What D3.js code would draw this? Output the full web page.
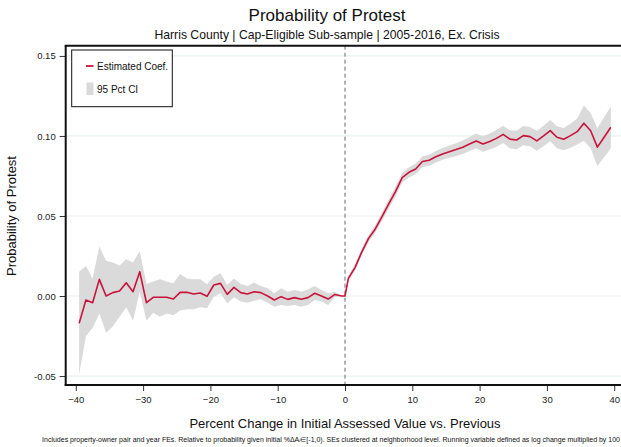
<!DOCTYPE html>
<html>
<head>
<meta charset="utf-8">
<script src="https://cdn.jsdelivr.net/npm/d3@7"></script>
<style>
  html, body { margin: 0; padding: 0; background: #fff; }
  svg { display: block; font-family: "Liberation Sans", Arial, Helvetica, sans-serif; }
</style>
</head>
<body>
<svg id="chart" width="621" height="447"></svg>
<script>
// Bin midpoints of the running variable (percent change in initial assessed value)
const bins = [
  -39.5, -38.5, -37.5, -36.5, -35.5, -34.5, -33.5, -32.5, -31.5, -30.5,
  -29.5, -28.5, -27.5, -26.5, -25.5, -24.5, -23.5, -22.5, -21.5, -20.5,
  -19.5, -18.5, -17.5, -16.5, -15.5, -14.5, -13.5, -12.5, -11.5, -10.5,
  -9.5, -8.5, -7.5, -6.5, -5.5, -4.5, -3.5, -2.5, -1.5, -0.5,
  0,
  0.5, 1.5, 2.5, 3.5, 4.5, 5.5, 6.5, 7.5, 8.5, 9.5,
  10.5, 11.5, 12.5, 13.5, 14.5, 15.5, 16.5, 17.5, 18.5, 19.5,
  20.5, 21.5, 22.5, 23.5, 24.5, 25.5, 26.5, 27.5, 28.5, 29.5,
  30.5, 31.5, 32.5, 33.5, 34.5, 35.5, 36.5, 37.5, 38.5, 39.5
];

// Estimated coefficients
const coef = [
  -0.0171, -0.0025, -0.0042, 0.0104, 0.0000, 0.0021, 0.0031, 0.0083, 0.0027, 0.0152,
  -0.0042, -0.0008, -0.0008, -0.0008, -0.0019, 0.0023, 0.0023, 0.0013, 0.0019, -0.0002,
  0.0069, 0.0079, 0.0010, 0.0054, 0.0021, 0.0013, 0.0027, 0.0021, 0.0000, -0.0025,
  -0.0004, -0.0021, -0.0010, -0.0020, -0.0010, 0.0017, 0.0000, -0.0019, 0.0010, 0.0000,
  0.0000,
  0.0110, 0.0179, 0.0276, 0.0360, 0.0419, 0.0496, 0.0575, 0.0652, 0.0740, 0.0773,
  0.0794, 0.0840, 0.0848, 0.0870, 0.0888, 0.0902, 0.0915, 0.0930, 0.0950, 0.0969,
  0.0950, 0.0965, 0.0985, 0.1010, 0.0980, 0.0975, 0.1002, 0.0996, 0.0969, 0.1000,
  0.1033, 0.0992, 0.0980, 0.1002, 0.1027, 0.1080, 0.1033, 0.0930, 0.0992, 0.1054
];

// 95 percent confidence interval bounds
const ciLow = [
  -0.0490, -0.0250, -0.0200, -0.0110, -0.0230, -0.0190, -0.0130, -0.0070, -0.0154, 0.0027,
  -0.0154, -0.0104, -0.0130, -0.0110, -0.0120, -0.0090, -0.0083, -0.0083, -0.0070, -0.0075,
  -0.0005, 0.0017, -0.0046, -0.0008, -0.0035, -0.0042, -0.0030, -0.0020, -0.0042, -0.0067,
  -0.0056, -0.0063, -0.0056, -0.0067, -0.0056, -0.0025, -0.0035, -0.0056, -0.0008, 0.0000,
  0.0000,
  0.0095, 0.0159, 0.0256, 0.0338, 0.0395, 0.0470, 0.0547, 0.0622, 0.0710, 0.0741,
  0.0761, 0.0806, 0.0813, 0.0834, 0.0851, 0.0864, 0.0875, 0.0888, 0.0906, 0.0923,
  0.0902, 0.0915, 0.0933, 0.0956, 0.0924, 0.0917, 0.0942, 0.0936, 0.0907, 0.0936,
  0.0967, 0.0924, 0.0910, 0.0927, 0.0947, 0.0970, 0.0923, 0.0812, 0.0867, 0.0924
];
const ciHigh = [
  0.0152, 0.0188, 0.0110, 0.0310, 0.0220, 0.0210, 0.0190, 0.0230, 0.0210, 0.0280,
  0.0075, 0.0090, 0.0104, 0.0090, 0.0080, 0.0137, 0.0110, 0.0104, 0.0104, 0.0073,
  0.0120, 0.0142, 0.0069, 0.0110, 0.0075, 0.0063, 0.0083, 0.0063, 0.0048, 0.0017,
  0.0048, 0.0027, 0.0038, 0.0027, 0.0040, 0.0063, 0.0038, 0.0017, 0.0027, 0.0000,
  0.0000,
  0.0125, 0.0199, 0.0296, 0.0382, 0.0443, 0.0522, 0.0603, 0.0682, 0.0770, 0.0805,
  0.0827, 0.0874, 0.0883, 0.0906, 0.0925, 0.0940, 0.0955, 0.0972, 0.0994, 0.1015,
  0.0998, 0.1015, 0.1037, 0.1064, 0.1036, 0.1033, 0.1062, 0.1056, 0.1031, 0.1064,
  0.1099, 0.1060, 0.1050, 0.1077, 0.1107, 0.1190, 0.1143, 0.1048, 0.1117, 0.1184
];

// Axis ticks
const xTicks = [-40, -30, -20, -10, 0, 10, 20, 30, 40];
const yTicks = [-0.05, 0, 0.05, 0.10, 0.15];
const yTickLabels = ["-0.05", "0.00", "0.05", "0.10", "0.15"];

const titleText = "Probability of Protest";
const subtitleText = "Harris County | Cap-Eligible Sub-sample | 2005-2016, Ex. Crisis";
const xTitle = "Percent Change in Initial Assessed Value vs. Previous";
const yTitle = "Probability of Protest";
const noteText = "Includes property-owner pair and year FEs. Relative to probability given initial %\u0394A\u1D62\u2208[-1,0). SEs clustered at neighborhood level. Running variable defined as log change multiplied by 100";
const legendItems = ["Estimated Coef.", "95 Pct CI"];

const rows = bins.map((b, i) => ({ x: b, y: coef[i], lo: ciLow[i], hi: ciHigh[i] }));

const svg = d3.select("#chart");
const W = 621, H = 447;
const plot = { left: 65.7, right: 624.3, top: 45.7, bottom: 385 };

const x = d3.scaleLinear().domain([-41.5, 41.5]).range([plot.left, plot.right]);
const y = d3.scaleLinear().domain([-0.0556, 0.1564]).range([plot.bottom, plot.top]);

const lineColor = "#c8133b";
const bandColor = "#dadada";

// Horizontal grid lines
svg.append("g")
  .selectAll("line")
  .data(yTicks)
  .join("line")
  .attr("x1", plot.left)
  .attr("x2", W)
  .attr("y1", d => y(d))
  .attr("y2", d => y(d))
  .attr("stroke", "#e7f0f1")
  .attr("stroke-width", 1.2);

// Confidence band
svg.append("path")
  .datum(rows)
  .attr("fill", bandColor)
  .attr("d", d3.area().x(d => x(d.x)).y0(d => y(d.lo)).y1(d => y(d.hi)));

// Cutoff at zero
svg.append("line")
  .attr("x1", x(0)).attr("x2", x(0))
  .attr("y1", plot.top).attr("y2", plot.bottom)
  .attr("stroke", "#6a6a6a")
  .attr("stroke-width", 1)
  .attr("stroke-dasharray", "4,3");

// Coefficient line
svg.append("path")
  .datum(rows)
  .attr("fill", "none")
  .attr("stroke", lineColor)
  .attr("stroke-width", 1.6)
  .attr("stroke-linejoin", "round")
  .attr("d", d3.line().x(d => x(d.x)).y(d => y(d.y)));

// Axes
const xAxis = svg.append("g")
  .attr("transform", `translate(0,${plot.bottom})`)
  .call(d3.axisBottom(x).tickValues(xTicks).tickSize(6).tickPadding(5).tickFormat(d3.format("d")));
const yAxis = svg.append("g")
  .attr("transform", `translate(${plot.left},0)`)
  .call(d3.axisLeft(y).tickValues(yTicks).tickSize(6).tickPadding(4).tickFormat((d, i) => yTickLabels[i]));

[xAxis, yAxis].forEach(g => {
  g.select(".domain").remove();
  g.selectAll(".tick line").attr("stroke", "#333").attr("stroke-width", 1);
  g.selectAll(".tick text").attr("fill", "#222").style("font-size", "9.5px").style("font-family", "Liberation Sans, Arial, sans-serif");
});

// Plot frame lines: left and bottom axes, and top border
svg.append("line")
  .attr("x1", plot.left).attr("x2", plot.left)
  .attr("y1", plot.top).attr("y2", plot.bottom + 0.8)
  .attr("stroke", "#111").attr("stroke-width", 2);
svg.append("line")
  .attr("x1", plot.left - 1).attr("x2", W)
  .attr("y1", plot.bottom).attr("y2", plot.bottom)
  .attr("stroke", "#111").attr("stroke-width", 2);
svg.append("line")
  .attr("x1", plot.left - 1).attr("x2", W)
  .attr("y1", plot.top).attr("y2", plot.top)
  .attr("stroke", "#111").attr("stroke-width", 2);

// Legend
const lg = svg.append("g");
lg.append("rect")
  .attr("x", 71.7).attr("y", 50).attr("width", 100.6).attr("height", 56.7)
  .attr("fill", "#fff").attr("stroke", "#111").attr("stroke-width", 1);
lg.append("line")
  .attr("x1", 86).attr("x2", 93.5).attr("y1", 66).attr("y2", 66)
  .attr("stroke", lineColor).attr("stroke-width", 1.8);
lg.append("rect")
  .attr("x", 86.5).attr("y", 82.5).attr("width", 7).attr("height", 12.5)
  .attr("fill", bandColor);
lg.selectAll("text")
  .data(legendItems)
  .join("text")
  .attr("x", 97)
  .attr("y", (d, i) => i === 0 ? 69.5 : 92.5)
  .attr("fill", "#111")
  .style("font-size", "10px")
  .text(d => d);

// Titles
svg.append("text")
  .attr("x", 327).attr("y", 21)
  .attr("text-anchor", "middle")
  .attr("fill", "#111")
  .style("font-size", "17px")
  .text(titleText);
svg.append("text")
  .attr("x", 327).attr("y", 38.5)
  .attr("text-anchor", "middle")
  .attr("fill", "#111")
  .style("font-size", "12.2px")
  .text(subtitleText);
svg.append("text")
  .attr("x", 345).attr("y", 427.5)
  .attr("text-anchor", "middle")
  .attr("fill", "#111")
  .style("font-size", "13px")
  .text(xTitle);
svg.append("text")
  .attr("transform", `translate(16,${y(0.05)}) rotate(-90)`)
  .attr("text-anchor", "middle")
  .attr("fill", "#111")
  .style("font-size", "13px")
  .text(yTitle);
svg.append("text")
  .attr("x", 620).attr("y", 441.5)
  .attr("text-anchor", "end")
  .attr("fill", "#111")
  .style("font-size", "7px")
  .text(noteText);
</script>
</body>
</html>
